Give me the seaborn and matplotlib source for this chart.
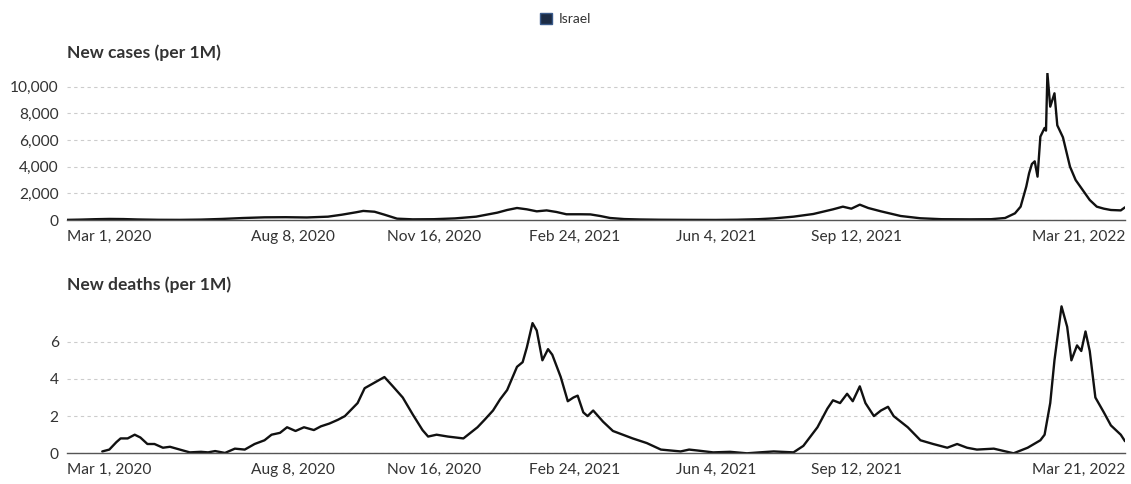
import pandas as pd
import matplotlib
matplotlib.use("Agg")
import matplotlib.pyplot as plt
from matplotlib.patches import Patch
from matplotlib.ticker import FuncFormatter
import seaborn as sns

# --- data (Israel, per million) ---
case_dates = [
    "2020-03-01", "2020-03-11", "2020-03-21", "2020-03-31", "2020-04-10", "2020-04-20",
    "2020-05-05", "2020-05-20", "2020-06-04", "2020-06-19", "2020-07-04", "2020-07-19",
    "2020-08-03", "2020-08-18", "2020-09-02", "2020-09-12", "2020-09-22", "2020-09-27",
    "2020-10-05", "2020-10-12", "2020-10-21", "2020-11-01", "2020-11-16", "2020-12-01",
    "2020-12-16", "2020-12-31", "2021-01-07", "2021-01-14", "2021-01-21", "2021-01-28",
    "2021-02-04", "2021-02-11", "2021-02-18", "2021-02-28", "2021-03-07", "2021-03-14",
    "2021-03-21", "2021-03-31", "2021-04-11", "2021-04-25", "2021-05-15", "2021-06-04",
    "2021-06-19", "2021-07-04", "2021-07-15", "2021-07-29", "2021-08-12", "2021-08-26",
    "2021-09-02", "2021-09-08", "2021-09-14", "2021-09-20", "2021-09-29", "2021-10-13",
    "2021-10-27", "2021-11-11", "2021-12-01", "2021-12-16", "2021-12-26", "2022-01-02",
    "2022-01-06", "2022-01-10", "2022-01-12", "2022-01-14", "2022-01-16", "2022-01-18",
    "2022-01-20", "2022-01-23", "2022-01-24", "2022-01-25", "2022-01-27", "2022-01-30",
    "2022-02-01", "2022-02-05", "2022-02-10", "2022-02-14", "2022-02-19", "2022-02-24",
    "2022-03-01", "2022-03-06", "2022-03-11", "2022-03-18", "2022-03-21",
]
case_values = [
    10, 30, 60, 80, 70, 40,
    15, 10, 30, 80, 150, 200,
    210, 190, 250, 400, 580, 680,
    620, 400, 100, 50, 60, 120,
    250, 550, 750, 900, 800, 650,
    720, 600, 430, 430, 420, 300,
    150, 70, 40, 20, 10, 5,
    20, 60, 120, 250, 450, 800,
    1000, 850, 1150, 900, 650, 300,
    130, 60, 50, 60, 150, 500,
    1000, 2500, 3500, 4200, 4400, 3250,
    6250, 6900, 6700, 11000, 8500, 9500,
    7100, 6200, 4000, 3000, 2250, 1500,
    1000, 850, 750, 720, 950,
]

death_dates = [
    "2020-03-26", "2020-03-31", "2020-04-05", "2020-04-08", "2020-04-13", "2020-04-18",
    "2020-04-22", "2020-04-27", "2020-05-02", "2020-05-08", "2020-05-13", "2020-05-20",
    "2020-05-27", "2020-06-04", "2020-06-09", "2020-06-14", "2020-06-21", "2020-06-28",
    "2020-07-05", "2020-07-12", "2020-07-19", "2020-07-24", "2020-07-30", "2020-08-04",
    "2020-08-10", "2020-08-16", "2020-08-23", "2020-08-28", "2020-09-03", "2020-09-09",
    "2020-09-14", "2020-09-23", "2020-09-28", "2020-10-05", "2020-10-12", "2020-10-18",
    "2020-10-25", "2020-11-01", "2020-11-08", "2020-11-12", "2020-11-18", "2020-11-26",
    "2020-12-07", "2020-12-17", "2020-12-22", "2020-12-28", "2021-01-02", "2021-01-07",
    "2021-01-14", "2021-01-18", "2021-01-21", "2021-01-25", "2021-01-28", "2021-02-01",
    "2021-02-05", "2021-02-08", "2021-02-14", "2021-02-19", "2021-02-23", "2021-02-26",
    "2021-03-02", "2021-03-05", "2021-03-09", "2021-03-16", "2021-03-23", "2021-03-30",
    "2021-04-06", "2021-04-16", "2021-04-26", "2021-05-03", "2021-05-10", "2021-05-16",
    "2021-05-22", "2021-06-02", "2021-06-14", "2021-06-26", "2021-07-05", "2021-07-15",
    "2021-07-29", "2021-08-05", "2021-08-15", "2021-08-22", "2021-08-26", "2021-08-31",
    "2021-09-05", "2021-09-09", "2021-09-14", "2021-09-18", "2021-09-24", "2021-09-29",
    "2021-10-04", "2021-10-08", "2021-10-18", "2021-10-27", "2021-11-05", "2021-11-15",
    "2021-11-22", "2021-11-29", "2021-12-06", "2021-12-18", "2022-01-01", "2022-01-11",
    "2022-01-20", "2022-01-23", "2022-01-27", "2022-01-30", "2022-02-04", "2022-02-08",
    "2022-02-11", "2022-02-15", "2022-02-18", "2022-02-21", "2022-02-24", "2022-02-28",
    "2022-03-06", "2022-03-11", "2022-03-18", "2022-03-21",
]
death_values = [
    0.1, 0.2, 0.6, 0.8, 0.8, 1.0,
    0.85, 0.5, 0.5, 0.3, 0.35, 0.2,
    0.05, 0.08, 0.05, 0.12, 0.02, 0.25,
    0.2, 0.5, 0.7, 1.0, 1.1, 1.4,
    1.2, 1.4, 1.25, 1.45, 1.6, 1.8,
    2.0, 2.7, 3.5, 3.8, 4.1, 3.6,
    3.0, 2.1, 1.25, 0.9, 1.0, 0.9,
    0.8, 1.4, 1.8, 2.3, 2.9, 3.4,
    4.65, 4.9, 5.7, 7.0, 6.6, 5.0,
    5.6, 5.3, 4.1, 2.8, 3.0, 3.1,
    2.2, 2.0, 2.3, 1.7, 1.2, 1.0,
    0.8, 0.55, 0.2, 0.15, 0.1, 0.2,
    0.15, 0.05, 0.08, 0.0, 0.05, 0.1,
    0.05, 0.4, 1.4, 2.4, 2.85, 2.7,
    3.2, 2.8, 3.6, 2.7, 2.0, 2.3,
    2.5, 2.0, 1.4, 0.7, 0.5, 0.3,
    0.5, 0.3, 0.2, 0.25, 0.0, 0.3,
    0.7, 1.0, 2.7, 5.0, 7.9, 6.8,
    5.0, 5.8, 5.5, 6.55, 5.5, 3.0,
    2.2, 1.5, 1.0, 0.65,
]

tick_dates = ["2020-03-01", "2020-08-08", "2020-11-16", "2021-02-24",
              "2021-06-04", "2021-09-12", "2022-03-21"]
tick_labels = ["Mar 1, 2020", "Aug 8, 2020", "Nov 16, 2020", "Feb 24, 2021",
               "Jun 4, 2021", "Sep 12, 2021", "Mar 21, 2022"]
country = "Israel"

cases = pd.DataFrame({"date": pd.to_datetime(case_dates), "value": case_values})
deaths = pd.DataFrame({"date": pd.to_datetime(death_dates), "value": death_values})

sns.set_style("white")
plt.rcParams["font.family"] = ["Lato", "DejaVu Sans"]

text_col = "#333333"
line_col = "#111111"

W, H = 1131, 484
fig = plt.figure(figsize=(W / 100, H / 100), dpi=100)
ax1 = fig.add_axes([67 / W, 1 - 220 / H, 1058 / W, 146.7 / H])
ax2 = fig.add_axes([67 / W, 1 - 453.3 / H, 1058 / W, 148.8 / H])


def style_axis(ax, yticks, ylim, fmt):
    ax.set_xlim(pd.Timestamp(tick_dates[0]), pd.Timestamp(tick_dates[-1]))
    ax.set_ylim(*ylim)
    ax.set_yticks(yticks)
    ax.yaxis.set_major_formatter(FuncFormatter(fmt))
    ax.set_xticks(pd.to_datetime(tick_dates))
    ax.set_xticklabels(tick_labels)
    labels = ax.get_xticklabels()
    labels[0].set_ha("left")
    labels[-1].set_ha("right")
    ax.tick_params(axis="x", length=5, width=0.8, color="#777777",
                   labelsize=11.2, labelcolor=text_col, pad=2)
    ax.tick_params(axis="y", length=0, labelsize=11.2, labelcolor=text_col, pad=6)
    ax.grid(axis="y", linestyle=(0, (3, 3)), color="#cccccc", linewidth=0.8)
    for side in ["top", "right", "left"]:
        ax.spines[side].set_visible(False)
    ax.spines["bottom"].set_color("#555555")
    ax.spines["bottom"].set_linewidth(1.0)
    ax.set_xlabel("")
    ax.set_ylabel("")


sns.lineplot(data=cases, x="date", y="value", ax=ax1, color=line_col, linewidth=1.7)
sns.lineplot(data=deaths, x="date", y="value", ax=ax2, color=line_col, linewidth=1.7)

style_axis(ax1, [0, 2000, 4000, 6000, 8000, 10000], (0, 11000),
           lambda v, p: f"{int(v):,}")
style_axis(ax2, [0, 2, 4, 6], (0, 8), lambda v, p: f"{int(v)}")

fig.text(67 / W, 1 - 53 / H, "New cases (per 1M)", fontsize=12.6,
         fontweight="bold", color=text_col, va="center")
fig.text(67 / W, 1 - 285 / H, "New deaths (per 1M)", fontsize=12.6,
         fontweight="bold", color=text_col, va="center")

fig.legend(handles=[Patch(facecolor="#1c2b45", edgecolor="#3a5a8a", label=country)],
           loc="upper center", bbox_to_anchor=(0.5, 1.0), frameon=False,
           fontsize=10, handlelength=0.9, handleheight=0.9, handletextpad=0.5,
           labelcolor=text_col)

fig.savefig("out.png", dpi=100, facecolor="white")
